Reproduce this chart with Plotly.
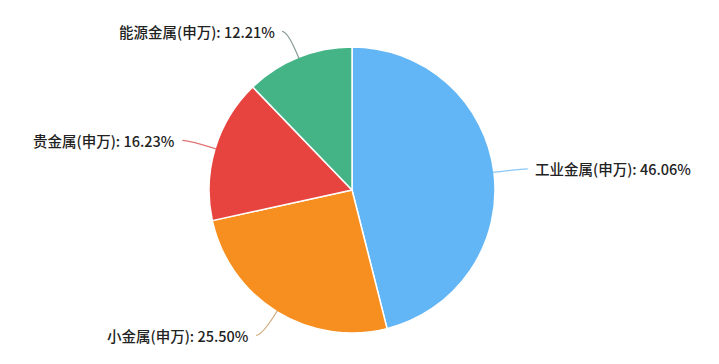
import math
import plotly.graph_objects as go

categories = ["工业金属(申万)", "小金属(申万)", "贵金属(申万)", "能源金属(申万)"]
values = [46.06, 25.50, 16.23, 12.21]
colors = ["#63B6F5", "#F78F20", "#E8443F", "#44B487"]
line_colors = ["rgba(99,182,245,0.75)", "rgba(200,160,110,0.9)",
               "rgba(220,90,90,0.85)", "rgba(120,145,135,0.9)"]

W, H = 719, 364
dom_x = [0.2907, 0.6885]
dom_y = [0.0852, 0.871]

fig = go.Figure(go.Pie(
    labels=categories, values=values, sort=False, direction="clockwise", rotation=0,
    marker=dict(colors=colors, line=dict(color="white", width=1.5)),
    textinfo="none", hoverinfo="label+percent", showlegend=False,
    domain=dict(x=dom_x, y=dom_y),
))

cx = (dom_x[0] + dom_x[1]) / 2 * W
cy = (1 - (dom_y[0] + dom_y[1]) / 2) * H
r = min((dom_x[1] - dom_x[0]) * W, (dom_y[1] - dom_y[0]) * H) / 2

L1, L2, gap = 28, 6, 5
total = sum(values)
cum = 0.0
shapes, annotations = [], []
for cat, v, lc in zip(categories, values, line_colors):
    mid = (cum + v / 2) / total
    cum += v
    ang = math.radians(90 - mid * 360)
    ex, ey = cx + (r - 1) * math.cos(ang), cy - (r - 1) * math.sin(ang)
    mx, my = cx + (r + L1) * math.cos(ang), cy - (r + L1) * math.sin(ang)
    side = 1 if math.cos(ang) >= 0 else -1
    tx = mx + side * L2
    path = f"M {ex/W},{1-ey/H} Q {mx/W},{1-my/H} {tx/W},{1-my/H}"
    shapes.append(dict(type="path", xref="paper", yref="paper", path=path,
                       line=dict(color=lc, width=1.2)))
    annotations.append(dict(
        x=(tx + side * gap) / W, y=1 - my / H, xref="paper", yref="paper",
        text=f"{cat}: {v:.2f}%", showarrow=False,
        xanchor="left" if side > 0 else "right", yanchor="middle",
        font=dict(size=14.5, color="#222222", family="Noto Sans CJK SC", weight=500),
    ))

fig.update_layout(
    width=W, height=H, margin=dict(l=0, r=0, t=0, b=0),
    paper_bgcolor="white", plot_bgcolor="white",
    shapes=shapes, annotations=annotations,
    font=dict(family="Noto Sans CJK SC"),
)
fig.write_html("out.html")
